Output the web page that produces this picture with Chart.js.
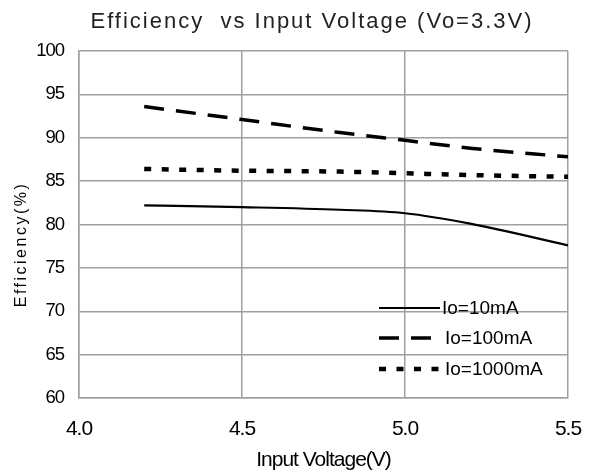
<!DOCTYPE html>
<html>
<head>
<meta charset="utf-8">
<script src="https://cdn.jsdelivr.net/npm/chart.js@4"></script>
<style>
  html, body { margin: 0; padding: 0; background: #fff; }
  #wrap { width: 595px; height: 476px; }
</style>
</head>
<body>
<div id="wrap"><canvas id="chart" width="595" height="476"></canvas></div>
<script>
// values
let volts = [4.2, 4.5, 4.8, 5.0, 5.2, 5.5];
let eff10 = [82.2, 82.0, 81.7, 81.3, 80.1, 77.6];
let eff100 = [93.6, 92.1, 90.6, 89.7, 88.8, 87.8];
let eff1000 = [86.4, 86.2, 86.1, 85.9, 85.7, 85.5];
let labels = ["Io=10mA", "Io=100mA", "Io=1000mA"];

const sans = "'Liberation Sans', Arial, sans-serif";
const gridColor = '#a0a0a0';

function pts(ys) {
  return volts.map((v, i) => ({ x: v, y: ys[i] }));
}

// squeeze the axis text a bit, the original looks condensed
const tightText = {
  id: 'tightText',
  beforeDraw(chart) {
    chart.ctx.letterSpacing = '-1px';
  }
};

// title above the plot and the spaced-out y title
const titles = {
  id: 'titles',
  afterDraw(chart) {
    let c = chart.ctx;
    let a = chart.chartArea;
    c.save();
    c.fillStyle = '#222';
    c.font = '22px ' + sans;
    c.letterSpacing = '2px';
    c.textAlign = 'center';
    c.textBaseline = 'alphabetic';
    c.fillText('Efficiency  vs Input Voltage (Vo=3.3V)', 312, 28);

    c.fillStyle = '#000';
    c.font = '16px ' + sans;
    c.letterSpacing = '2.5px';
    c.translate(22, (a.top + a.bottom) / 2 + 20);
    c.rotate(-Math.PI / 2);
    c.textBaseline = 'middle';
    c.fillText('Efficiency(%)', 0, 0);
    c.restore();
  }
};

// legend inside the plot, bottom right
const boxLegend = {
  id: 'boxLegend',
  afterDatasetsDraw(chart) {
    let c = chart.ctx;
    let a = chart.chartArea;
    let x0 = a.right - 189;
    let x1 = a.right - 128;
    let ys = [a.bottom - 90, a.bottom - 60, a.bottom - 29];
    c.save();
    c.letterSpacing = '0px';
    chart.data.datasets.forEach((ds, i) => {
      c.strokeStyle = ds.borderColor;
      c.lineWidth = ds.borderWidth;
      c.setLineDash(ds.borderDash || []);
      c.lineCap = 'butt';
      c.beginPath();
      c.moveTo(x0, ys[i]);
      c.lineTo(x1, ys[i]);
      c.stroke();
      c.setLineDash([]);
      c.fillStyle = '#000';
      c.font = '19px ' + sans;
      c.textAlign = 'left';
      c.textBaseline = 'middle';
      c.fillText(ds.label, x1 + 2 + (i == 0 ? 0 : 3), ys[i] + 1);
    });
    c.restore();
  }
};

new Chart(document.getElementById('chart'), {
  type: 'line',
  data: {
    datasets: [
      { label: labels[0], data: pts(eff10), borderColor: '#000', borderWidth: 2.2, pointRadius: 0, fill: false, cubicInterpolationMode: 'monotone' },
      { label: labels[1], data: pts(eff100), borderColor: '#000', borderWidth: 3.5, borderDash: [20, 12], pointRadius: 0, fill: false, cubicInterpolationMode: 'monotone' },
      { label: labels[2], data: pts(eff1000), borderColor: '#000', borderWidth: 4.5, borderDash: [7, 10.5], pointRadius: 0, fill: false, cubicInterpolationMode: 'monotone' }
    ]
  },
  options: {
    responsive: false,
    animation: false,
    events: [],
    layout: { padding: { left: 0, right: 27, top: 51, bottom: 0 } },
    plugins: {
      legend: { display: false },
      title: { display: false },
      tooltip: { enabled: false }
    },
    scales: {
      x: {
        type: 'linear',
        min: 4.0,
        max: 5.5,
        ticks: {
          stepSize: 0.5,
          color: '#000',
          padding: 19,
          font: { family: sans, size: 21 },
          callback: v => v.toFixed(1)
        },
        grid: { color: gridColor, lineWidth: 1.5, drawTicks: false },
        border: { color: gridColor, width: 1.5 },
        title: {
          display: true,
          text: 'Input Voltage(V)',
          color: '#000',
          font: { family: sans, size: 21 },
          padding: { top: 0, bottom: 3 }
        },
        afterFit(scale) {
          scale.height = 78;
          scale.paddingLeft = 0;
          scale.paddingRight = 0;
        }
      },
      y: {
        min: 60,
        max: 100,
        ticks: {
          stepSize: 5,
          color: '#000',
          padding: 15,
          font: { family: sans, size: 18.5 }
        },
        grid: { color: gridColor, lineWidth: 1.5, drawTicks: false },
        border: { color: gridColor, width: 1.5 },
        afterFit(scale) {
          scale.width = 79;
          scale.paddingTop = 0;
          scale.paddingBottom = 0;
        }
      }
    }
  },
  plugins: [tightText, titles, boxLegend]
});
</script>
</body>
</html>
